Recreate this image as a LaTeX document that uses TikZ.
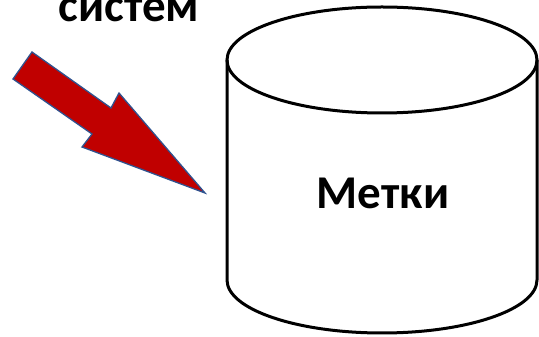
\documentclass[tikz,border=0pt]{standalone}
\usepackage{fontspec}
\setmainfont{Carlito}
\definecolor{arrowred}{HTML}{C00000}
\definecolor{arrowedge}{HTML}{2F528F}
\tikzset{
  cyl/.style={line width=3pt, draw=black},
  bigarrow/.style={fill=arrowred, draw=arrowedge, line width=1.3pt, line join=miter},
  label/.style={font=\bfseries\fontsize{47}{50}\selectfont, inner sep=0pt}
}
\begin{document}
\begin{tikzpicture}[x=1pt,y=1pt]
\useasboundingbox (0,0) rectangle (539,337);
% cylinder
\draw[cyl] (382,277) ellipse [x radius=155, y radius=53];
\draw[cyl] (227,277) -- (227,57) arc[start angle=180, end angle=360, x radius=155, y radius=53] -- (537,277);
\node[label, anchor=center] (metki) at (383,144) {Метки};
% top text
\node[label, anchor=base] (sistem) at (129,315) {систем};
% arrow
\draw[bigarrow] (32,285) coordinate (tailtop) -- (111,229) -- (119,244) -- (205,144) coordinate (tip) -- (82,190) -- (92,203) -- (13,258) -- cycle;
\end{tikzpicture}
\end{document}
